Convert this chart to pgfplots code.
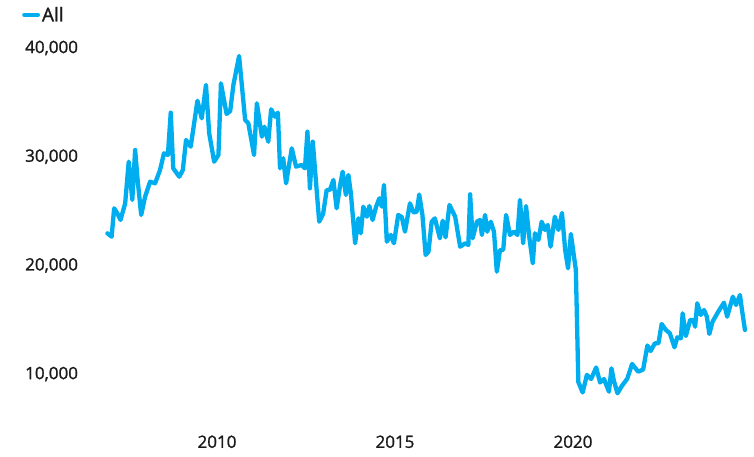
\documentclass[border=0pt]{standalone}
\usepackage{pgfplots}
\pgfplotsset{compat=1.18}
\usepackage{fontspec}
\setmainfont{Open Sans}
\newfontfamily\lab{Open Sans}[FakeBold=1.3]
\definecolor{linec}{HTML}{00AEEF}
\definecolor{txt}{HTML}{1A1A1A}
\begin{document}
\begin{tikzpicture}
\path[use as bounding box] (-100pt,-32pt) rectangle (654pt,425pt);
\begin{axis}[
  scale only axis, width=650pt, height=385pt,
  xmin=2006.713, xmax=2024.972, ymin=5316, ymax=40736,
  axis line style={draw=none}, tick style={draw=none},
  xtick={2010,2015,2020}, xticklabels={2010,2015,2020},
  ytick={10000,20000,30000,40000},
  yticklabels={{10,000},{20,000},{30,000},{40,000}},
  scaled y ticks=false,
  yticklabel style={anchor=east, xshift=-18.5pt, text=txt, font=\fontsize{17}{19}\lab},
  xticklabel style={text=txt, font=\fontsize{17}{19}\lab, yshift=-7pt},
  legend style={at={(-0.12,1.065)}, anchor=west, draw=none, fill=none, inner sep=0pt, font=\fontsize{19}{21}\lab, text=txt},
  legend image code/.code={\draw[#1, line width=3.8pt] (0pt,0pt) -- (14pt,0pt);},
  clip=false,
]
\addplot[linec, line width=4.3pt, line join=round, line cap=round] table {
2006.92 22950
2007.04 22640
2007.11 25250
2007.20 24790
2007.29 24180
2007.42 25710
2007.52 29540
2007.62 26020
2007.70 30620
2007.77 27860
2007.87 24640
2007.98 26320
2008.12 27700
2008.26 27550
2008.40 28780
2008.51 30310
2008.62 30160
2008.70 34050
2008.77 28930
2008.94 28160
2009.04 28780
2009.13 31540
2009.26 30920
2009.33 32460
2009.45 35150
2009.57 33530
2009.69 36600
2009.78 32150
2009.92 29540
2010.04 30160
2010.11 36750
2010.27 33930
2010.37 34200
2010.46 36600
2010.62 39260
2010.79 33380
2010.88 33070
2011.04 30160
2011.12 34910
2011.26 31840
2011.33 32760
2011.44 31380
2011.52 34360
2011.63 33680
2011.71 34050
2011.77 28930
2011.86 29850
2011.94 27550
2012.10 30770
2012.22 29080
2012.38 29240
2012.47 28930
2012.54 32300
2012.61 27090
2012.69 31380
2012.87 24020
2012.98 24730
2013.08 26940
2013.17 26940
2013.27 27860
2013.36 25250
2013.46 27400
2013.53 28620
2013.62 26480
2013.69 28320
2013.76 26630
2013.88 22030
2013.97 24330
2014.04 22950
2014.11 25400
2014.21 24480
2014.28 25460
2014.37 24180
2014.47 25400
2014.56 26170
2014.63 25400
2014.69 27400
2014.77 22180
2014.88 22800
2014.97 22030
2015.09 24640
2015.19 24450
2015.28 23100
2015.42 25710
2015.52 24870
2015.61 24940
2015.68 26520
2015.77 24640
2015.86 20960
2015.94 21260
2016.03 24020
2016.12 24330
2016.26 22490
2016.34 24110
2016.42 22580
2016.53 25560
2016.69 24480
2016.83 21720
2016.97 22030
2017.06 21880
2017.11 26540
2017.18 22490
2017.30 24020
2017.39 24180
2017.44 22800
2017.53 24640
2017.59 23100
2017.69 24020
2017.78 23100
2017.86 19420
2017.95 21420
2018.04 21420
2018.12 24640
2018.23 22800
2018.34 23100
2018.44 22800
2018.51 26020
2018.60 22030
2018.68 25460
2018.77 22640
2018.87 20190
2018.93 22950
2019.03 22340
2019.12 24020
2019.21 23260
2019.29 23720
2019.37 21720
2019.49 24480
2019.59 23260
2019.69 24820
2019.78 21420
2019.86 19730
2019.94 22890
2020.08 19580
2020.15 9270
2020.27 8310
2020.39 9920
2020.51 9550
2020.65 10610
2020.76 9230
2020.87 9550
2021.01 8380
2021.08 10530
2021.15 9360
2021.25 8230
2021.37 8900
2021.52 9550
2021.66 10930
2021.83 10220
2021.97 10420
2022.09 12630
2022.18 12120
2022.30 12830
2022.40 12830
2022.49 14610
2022.61 14060
2022.72 13750
2022.85 12460
2022.93 13380
2023.03 13290
2023.08 15590
2023.17 13500
2023.29 14980
2023.38 14980
2023.43 14360
2023.49 16510
2023.59 15440
2023.68 15900
2023.76 15280
2023.83 13690
2023.92 14820
2024.08 15740
2024.24 16570
2024.33 15280
2024.49 17120
2024.58 16360
2024.69 17280
2024.74 16050
2024.83 14060
};
\addlegendentry{All}
\end{axis}
\end{tikzpicture}
\end{document}
